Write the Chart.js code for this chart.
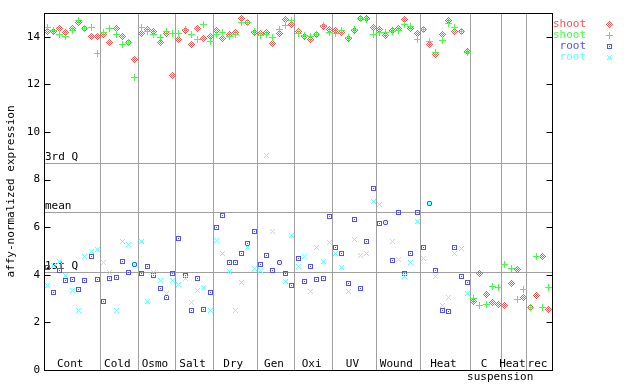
<!DOCTYPE html>
<html>
<head>
<meta charset="utf-8">
<script src="https://cdn.jsdelivr.net/npm/chart.js@4/dist/chart.umd.min.js"></script>
<style>
  html, body { margin: 0; padding: 0; background: #fff; }
</style>
</head>
<body>
<canvas id="chart" width="640" height="384"></canvas>
<script>
// groups along the x axis and how many samples each holds
var GROUP_LABELS = ["Cont", "Cold", "Osmo", "Salt", "Dry", "Gen", "Oxi", "UV", "Wound", "Heat", "C\nsuspension", "Heat", "rec"];
var GROUP_SIZES = [9, 6, 6, 6, 7, 6, 6, 7, 7, 8, 5, 4, 4];

// shoot samples (81)
var SHOOT_1 = [14.24, 14.24, 14.33, 14.17, 14.33, 14.59, 14.33, 14.0, 14.0,
  14.08, 13.75, 14.33, 14.0, 13.75, 13.03,
  14.12, 14.29, 14.21, 13.75, 14.12, 12.36,
  13.87, 14.25, 13.66, 14.33, 13.92, 14.0,
  14.25, 13.92, 14.08, 14.17, 14.76, 14.59, 14.17,
  14.12, 14.17, 13.70, 14.12, 14.71, 14.50,
  14.21, 14.0, 13.87, 14.08, 14.42, 14.29,
  14.25, 14.17, 13.92, 14.25, 14.76, 14.76, 14.38,
  14.29, 14.04, 14.25, 14.33, 14.71, 14.33, 14.12,
  14.29, 13.68, 13.24, 14.08, 14.67, 14.21, 14.21, 13.37,
  2.87, 4.05, 3.17, 2.83, 2.75,
  2.71, 3.63, 4.22, 3.04,
  2.62, 3.13, 4.77, 2.54];
var SHOOT_2 = [14.38, 14.28, 14.08, 14.0, 14.25, 14.67, 14.33, 14.38, 13.28,
  14.17, 14.33, 14.08, 13.66, 13.75, 12.31,
  14.38, 14.21, 14.08, 13.96, 14.21, 14.12,
  14.12, 14.29, 14.08, 13.87, 14.50, 13.79,
  14.08, 14.17, 14.0, 14.08, 14.59, 14.59, 14.21,
  14.04, 14.08, 13.96, 14.29, 14.46, 14.67,
  14.12, 14.04, 14.0, 14.08, 14.46, 14.17,
  14.12, 14.25, 13.96, 14.29, 14.76, 14.71, 14.08,
  14.17, 14.17, 14.21, 14.25, 14.50, 14.42, 13.87,
  14.29, 13.81, 13.33, 13.83, 14.55, 14.38, 14.21, 13.33,
  3.0, 2.71, 2.75, 3.51, 3.46,
  4.43, 4.26, 2.96, 3.38,
  2.62, 4.77, 2.62, 3.46];

// root samples (68)
var ROOT_1 = [4.31, 3.25, 4.18, 3.76, 3.80, 3.38, 3.76, 4.77, 3.80,
  2.87, 3.84, 3.89, 4.56, 4.10, 4.43,
  4.05, 4.35, 3.97, 3.42, 3.04, 4.05,
  5.53, 3.97, 2.49, 3.84, 2.54, 3.25,
  5.99, 6.50, 4.52, 4.52, 4.90, 5.32, 5.82,
  4.43, 4.81, 4.18, 4.52, 4.05, 3.55,
  4.69, 3.72, 4.35, 3.80, 3.84, 6.46,
  5.15, 4.90, 3.63, 6.33, 3.42, 5.40, 7.64,
  6.16, 6.20, 4.60, 6.63, 4.05, 4.90, 6.63,
  5.15, 7.0, 4.18, 2.49, 2.45, 5.15, 3.93, 3.67];
var ROOT_2 = [3.56, 4.37, 4.54, 3.97, 3.34, 2.49, 4.77, 4.98, 5.07,
  4.52, 4.10, 2.49, 5.40, 5.28, 4.43,
  5.40, 2.87, 4.10, 3.76, 3.21, 3.76,
  3.59, 3.84, 2.83, 3.34, 3.46, 2.49,
  5.44, 4.90, 4.14, 2.49, 3.67, 5.15, 4.26,
  4.18, 9.0, 5.82, 4.52, 3.72, 5.66,
  4.35, 4.77, 3.30, 5.15, 4.56, 5.36,
  4.90, 4.31, 3.30, 5.49, 4.81, 4.90, 7.09,
  6.96, 6.20, 5.40, 4.64, 3.93, 4.52, 6.25,
  4.69, 7.0, 3.93, 2.71, 3.04, 4.90, 5.11, 3.21];

var Y_TICKS = [0, 2, 4, 6, 8, 10, 12, 14];
var Q_NAMES = ["1st Q", "mean", "3rd Q"];
var Q_VALUES = [4.10, 6.62, 8.69];

var FONT = "11px 'DejaVu Sans Mono', monospace";
var RED = "#ff5050", GREEN = "#40ff40", BLUE = "#5050ff", CYAN = "#66ffff";

// group boundaries in sample-index units
var bounds = [0.5];
GROUP_SIZES.forEach(function (n, i) { bounds.push(bounds[i] + n); });
var total = bounds[bounds.length - 1];

function toPoints(arr) {
  return arr.map(function (v, i) { return { x: i + 1, y: v }; });
}

// small pixel markers like the original
function sprite(color, kind) {
  var c = document.createElement("canvas");
  c.width = 9; c.height = 9;
  var g = c.getContext("2d");
  g.fillStyle = color;
  for (var dy = -4; dy <= 4; dy++) {
    for (var dx = -4; dx <= 4; dx++) {
      var ax = Math.abs(dx), ay = Math.abs(dy), m = ax + ay, cm = Math.max(ax, ay), on = false;
      if (kind === "diamond") on = m === 3 || m === 1;
      if (kind === "box") on = cm === 2 || cm === 0;
      if (kind === "plus") on = (dx === 0 || dy === 0) && cm <= 3;
      if (kind === "x") on = ax === ay && cm <= 2;
      if (on) g.fillRect(dx + 4, dy + 4, 1, 1);
    }
  }
  return c;
}

var series = [
  { label: "shoot", data: SHOOT_1, color: RED, kind: "diamond", order: 4 },
  { label: "shoot", data: SHOOT_2, color: GREEN, kind: "plus", order: 3 },
  { label: "root", data: ROOT_1, color: BLUE, kind: "box", order: 2 },
  { label: "root", data: ROOT_2, color: CYAN, kind: "x", order: 1 }
];
series.forEach(function (s) { s.img = sprite(s.color, s.kind); });

var decor = {
  id: "decor",
  beforeDraw: function (chart) {
    chart.ctx.imageSmoothingEnabled = false;
  },
  beforeDatasetsDraw: function (chart) {
    var ctx = chart.ctx, a = chart.chartArea, y = chart.scales.y;
    ctx.save();
    ctx.strokeStyle = "#a0a0a0";
    ctx.lineWidth = 1;
    Q_VALUES.forEach(function (v) {
      var py = Math.round(y.getPixelForValue(v)) + 0.5;
      ctx.beginPath(); ctx.moveTo(a.left, py); ctx.lineTo(a.right, py); ctx.stroke();
    });
    ctx.fillStyle = "#000";
    ctx.font = FONT;
    ctx.textAlign = "left";
    ctx.textBaseline = "bottom";
    Q_VALUES.forEach(function (v, i) {
      ctx.fillText(Q_NAMES[i], a.left + 1, y.getPixelForValue(v) - 0.5);
    });
    ctx.restore();
  },
  afterDraw: function (chart) {
    var ctx = chart.ctx, a = chart.chartArea, x = chart.scales.x, y = chart.scales.y;
    ctx.save();
    // frame
    ctx.strokeStyle = "#000";
    ctx.lineWidth = 1;
    var l = Math.round(a.left) + 0.5, r = Math.round(a.right) + 0.5;
    var t = Math.round(a.top) + 0.5, b = Math.round(a.bottom) + 0.5;
    ctx.strokeRect(l, t, r - l, b - t);
    // inward ticks on both sides
    ctx.beginPath();
    Y_TICKS.forEach(function (v) {
      var py = Math.round(y.getPixelForValue(v)) + 0.5;
      ctx.moveTo(l, py); ctx.lineTo(l + 6, py);
      ctx.moveTo(r, py); ctx.lineTo(r - 6, py);
    });
    ctx.stroke();
    // group names
    ctx.fillStyle = "#000";
    ctx.font = FONT;
    ctx.textAlign = "center";
    ctx.textBaseline = "middle";
    GROUP_LABELS.forEach(function (name, i) {
      var cx = x.getPixelForValue((bounds[i] + bounds[i + 1]) / 2) - 2;
      var lines = name.split("\n");
      ctx.fillText(lines[0], cx, a.bottom - 5.5);
      if (lines[1]) ctx.fillText(lines[1], cx + 16, a.bottom + 7.5);
    });
    // legend
    ctx.textAlign = "right";
    series.forEach(function (s, i) {
      var py = 24 + i * 11;
      ctx.fillStyle = s.color;
      ctx.fillText(s.label, 586, py);
      ctx.drawImage(s.img, 605, py - 4);
    });
    ctx.restore();
  }
};

new Chart(document.getElementById("chart").getContext("2d"), {
  type: "scatter",
  data: {
    datasets: series.map(function (s) {
      return {
        label: s.label,
        data: toPoints(s.data),
        pointStyle: s.img,
        pointRadius: 4,
        borderColor: s.color,
        backgroundColor: s.color,
        order: s.order
      };
    })
  },
  options: {
    responsive: false,
    animation: false,
    devicePixelRatio: 1,
    events: [],
    layout: { padding: { left: 0, top: 13, right: 88, bottom: 14 } },
    plugins: { legend: { display: false }, tooltip: { enabled: false } },
    scales: {
      x: {
        type: "linear",
        min: 0.5,
        max: total,
        afterBuildTicks: function (s) {
          s.ticks = bounds.slice(1, -1).map(function (v) { return { value: v }; });
        },
        afterFit: function (s) { s.height = 0; },
        grid: { color: "#a0a0a0", lineWidth: 1, drawTicks: false },
        border: { display: false },
        ticks: { display: false }
      },
      y: {
        min: 0,
        max: 15,
        afterBuildTicks: function (s) {
          s.ticks = Y_TICKS.map(function (v) { return { value: v }; });
        },
        afterFit: function (s) { s.width = 44; },
        grid: { display: false, drawTicks: false },
        border: { display: false },
        ticks: { color: "#000", font: { family: "'DejaVu Sans Mono', monospace", size: 11 }, padding: 4 },
        title: {
          display: true,
          text: "affy-normalized expression",
          color: "#000",
          font: { family: "'DejaVu Sans Mono', monospace", size: 11 },
          padding: { top: 5, bottom: 0 }
        }
      }
    }
  },
  plugins: [decor]
});
</script>
</body>
</html>
